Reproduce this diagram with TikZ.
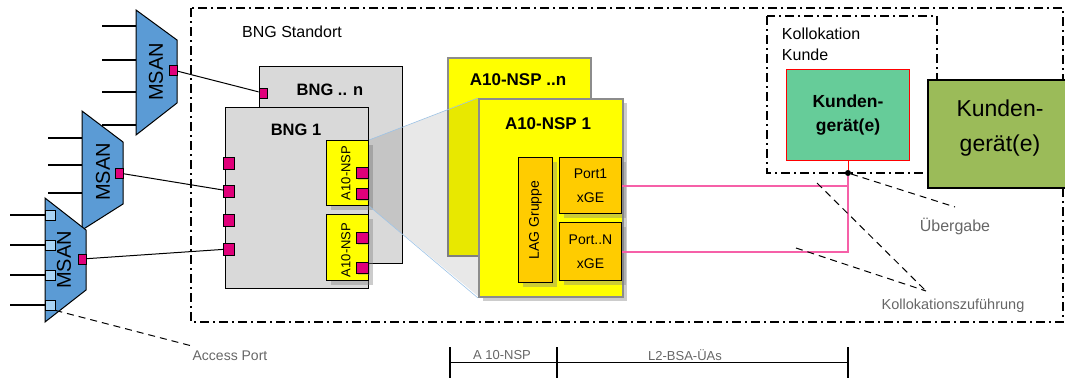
\documentclass[tikz,border=0pt]{standalone}
\usepackage{fontspec}
\setmainfont{Liberation Sans}
\usepackage{tikz}
\usetikzlibrary{shadows}

\definecolor{msanblue}{HTML}{5B9BD5}
\definecolor{portred}{HTML}{E0007A}
\definecolor{portblue}{HTML}{A9D4F5}
\definecolor{bnggray}{HTML}{D9D9D9}
\definecolor{nspyellow}{HTML}{FFFF00}
\definecolor{nspborder}{HTML}{8C8C8C}
\definecolor{lagorange}{HTML}{FFCC00}
\definecolor{linkpink}{HTML}{F660A8}
\definecolor{kundegreen}{HTML}{66CC99}
\definecolor{kundeolive}{HTML}{9BBB59}
\definecolor{labelgray}{HTML}{666666}
\definecolor{projblue}{HTML}{9DC3E6}

\begin{document}
\begin{tikzpicture}[x=1pt,y=1pt,yscale=-1,xscale=1,
  box/.style={draw=black,line width=1pt,inner sep=0pt,anchor=north west},
  port/.style={draw=black,line width=0.8pt,fill=portred,inner sep=0pt,minimum width=8pt,minimum height=10pt},
  bngport/.style={port,minimum width=11pt,minimum height=12pt},
  nspport/.style={port,minimum width=12pt,minimum height=11pt,drop shadow={opacity=0.35,shadow xshift=2pt,shadow yshift=-2pt}},
  accport/.style={draw=black,line width=0.8pt,fill=portblue,inner sep=0pt,minimum size=10pt},
  boxshadow/.style={drop shadow={opacity=0.4,shadow xshift=4pt,shadow yshift=-4pt}},
  feed/.style={line width=1.2pt},
  link/.style={line width=1pt},
  pinklink/.style={draw=linkpink,line width=2pt},
  site/.style={line width=2pt,dash pattern=on 9pt off 4pt on 2pt off 4pt},
  leader/.style={line width=1pt,dash pattern=on 7pt off 5pt},
  lbl/.style={inner sep=0.75pt},
  graylbl/.style={inner sep=0.75pt,text=labelgray}]
\useasboundingbox (0,0) rectangle (1065,378);

\draw [site] (191,8) rectangle (1063,322);
\draw (292,32) node [lbl,font=\fontsize{16}{19}\selectfont] (standort) {BNG Standort};

% MSAN 1
\draw [feed] (102,26) -- (136,26);
\draw [feed] (102,60) -- (136,60);
\draw [feed] (102,92) -- (136,92);
\draw [feed] (102,125) -- (136,125);
\draw [fill=msanblue,line width=1pt] (136,10) -- (177,40) -- (177,103) -- (136,135) -- cycle;
\draw (156,72) node [lbl,rotate=90,font=\fontsize{20}{24}\selectfont] (msan1) {MSAN};
\node [port] (m1p) at (173,70) {};

% MSAN 2
\draw [feed] (48,138) -- (82,138);
\draw [feed] (48,165) -- (82,165);
\draw [feed] (48,193) -- (82,193);
\draw [fill=msanblue,line width=1pt] (82,111) -- (123,142) -- (123,204) -- (82,230) -- cycle;
\draw (103,172) node [lbl,rotate=90,font=\fontsize{20}{24}\selectfont] (msan2) {MSAN};
\node [port] (m2p) at (119,173) {};

% MSAN 3
\draw [feed] (10,215) -- (45,215);
\draw [feed] (10,245) -- (45,245);
\draw [feed] (10,275) -- (45,275);
\draw [feed] (10,305) -- (45,305);
\draw [fill=msanblue,line width=1pt] (45,198) -- (86,230) -- (86,290) -- (45,322) -- cycle;
\draw (64,260) node [lbl,rotate=90,font=\fontsize{20}{24}\selectfont] (msan3) {MSAN};
\node [accport] (ap1) at (50,215) {};
\node [accport] (ap2) at (50,245) {};
\node [accport] (ap3) at (50,275) {};
\node [accport] (ap4) at (50,305) {};
\node [port] (m3p) at (82,259) {};

% BNG
\node [box,fill=bnggray,minimum width=143pt,minimum height=197pt] (bngn) at (259,66) {};
\node [port] (bnp) at (263,93) {};
\draw (330,90) node [lbl,font=\bfseries\fontsize{16.5}{20}\selectfont] (bngnlbl) {BNG .. n};
\node [box,fill=bnggray,minimum width=143pt,minimum height=181pt] (bngone) at (225,107) {};
\draw (296,130) node [lbl,font=\bfseries\fontsize{16.5}{20}\selectfont] (bngonelbl) {BNG 1};
\node [bngport] (b1p1) at (229,163) {};
\node [bngport] (b1p2) at (229,191) {};
\node [bngport] (b1p3) at (229,220) {};
\node [bngport] (b1p4) at (229,249) {};
\node [box,fill=nspyellow,minimum width=42pt,minimum height=65pt,boxshadow] (a10s1) at (326,140) {};
\draw (346,173) node [lbl,rotate=90,font=\fontsize{13}{15}\selectfont] (a10s1lbl) {A10-NSP};
\node [nspport] (a1p1) at (362,172.5) {};
\node [nspport] (a1p2) at (362,193.5) {};
\node [box,fill=nspyellow,minimum width=42pt,minimum height=66pt,boxshadow] (a10s2) at (326,214) {};
\draw (346,250) node [lbl,rotate=90,font=\fontsize{13}{15}\selectfont] (a10s2lbl) {A10-NSP};
\node [nspport] (a2p1) at (362,237.5) {};
\node [nspport] (a2p2) at (362,267.5) {};

\draw [link] (m1p) -- (bnp);
\draw [link] (m2p) -- (b1p2);
\draw [link] (m3p) -- (b1p4);

% A10-NSP
\node [box,draw=nspborder,line width=2pt,fill=nspyellow,minimum width=143pt,minimum height=198pt] (nspn) at (447,57) {};
\draw (518,80) node [lbl,font=\bfseries\fontsize{17}{20}\selectfont] (nspnlbl) {A10-NSP ..n};
\fill [black,fill opacity=0.09] (a10s1.north east) -- (478,98) -- (478,296) -- (a10s1.south east) -- cycle;
\node [box,draw=nspborder,line width=2pt,fill=nspyellow,minimum width=144pt,minimum height=198pt,boxshadow] (nspone) at (478,98) {};
\draw [projblue,line width=0.6pt] (a10s1.north east) -- (nspone.north west);
\draw [projblue,line width=0.6pt] (a10s1.south east) -- (nspone.south west);
\draw (548,124) node [lbl,font=\bfseries\fontsize{17}{20}\selectfont] (nsponelbl) {A10-NSP 1};
\node [box,fill=lagorange,minimum width=34pt,minimum height=125pt,boxshadow] (lag) at (518,157) {};
\draw (lag.center) node [lbl,rotate=90,font=\fontsize{14}{17}\selectfont] (laglbl) {LAG Gruppe};
\node [box,fill=lagorange,minimum width=62pt,minimum height=56pt,align=center,boxshadow,font=\fontsize{14}{24}\selectfont] (port1) at (559,157) {Port1\\xGE};
\node [box,fill=lagorange,minimum width=62pt,minimum height=58pt,align=center,boxshadow,font=\fontsize{14}{24}\selectfont] (portn) at (559,222) {Port..N\\xGE};

% Kollokation
\draw [site] (767,16) rectangle (937,173);
\draw (781,44) node [lbl,anchor=west,align=left,font=\fontsize{16}{21}\selectfont] (kolloklbl) {Kollokation\\Kunde};
\node [box,draw=red,fill=kundegreen,minimum width=123pt,minimum height=91pt,align=center,font=\bfseries\fontsize{17.5}{24}\selectfont] (kgreen) at (786,69) {Kunden-\\gerät(e)};
\node [circle,fill=black,inner sep=0pt,minimum size=6pt] (kdot) at (848,173) {};
\draw [pinklink] (port1.east) -- (port1.east -| kdot);
\draw [pinklink] (portn.east) -| (kdot);
\draw [red,line width=1pt] (kdot) -- (kgreen.south);
\node [box,line width=1.5pt,fill=kundeolive,minimum width=150pt,minimum height=108pt] (kolive) at (927,79) {};
\draw (1000,128) node [lbl,align=center,font=\fontsize{23}{35}\selectfont] (kolivelbl) {Kunden-\\gerät(e)};

% leaders
\coordinate (uebend) at (955,207);
\draw [leader] (kdot) -- (uebend);
\draw (955,226) node [graylbl,font=\fontsize{16}{19}\selectfont] (uebergabe) {Übergabe};
\coordinate (kzfa) at (817,183);
\coordinate (kzfb) at (796,248);
\coordinate (kzfend) at (926,291);
\draw [leader] (kzfa) -- (kzfend);
\draw [leader] (kzfb) -- (kzfend);
\draw (953,306) node [graylbl,font=\fontsize{14.5}{17}\selectfont] (kzf) {Kollokationszuführung};
\coordinate (apend) at (192,346);
\draw [leader] (ap4.south east) -- (apend);
\draw (230,356) node [graylbl,font=\fontsize{14}{17}\selectfont] (accesslbl) {Access Port};

% scale
\draw [line width=1pt] (450,362) -- (848,362);
\draw [line width=2pt] (450,347) -- (450,378);
\draw [line width=2pt] (557,347) -- (557,378);
\draw [line width=2pt] (848,347) -- (848,378);
\draw (502,355) node [graylbl,font=\fontsize{13}{15}\selectfont] (scalea) {A 10-NSP};
\draw (685,355) node [graylbl,font=\fontsize{13}{15}\selectfont] (scaleb) {L2-BSA-ÜAs};
\end{tikzpicture}
\end{document}
